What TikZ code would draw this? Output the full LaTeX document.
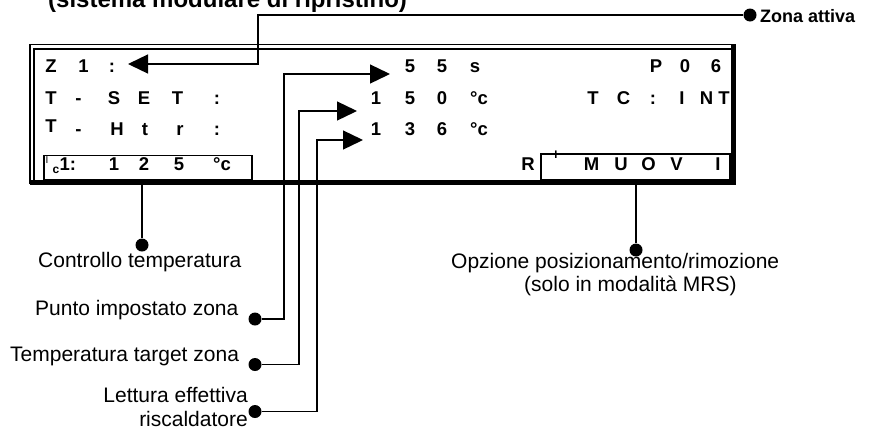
\documentclass[tikz,border=0pt]{standalone}
\usepackage{fontspec}
\setmainfont{Liberation Sans}
\usepackage{tikz}
\usetikzlibrary{arrows.meta}
\newcommand{\lcdfont}{\fontsize{18.5}{21}\selectfont\bfseries}
\newcommand{\lblfont}{\fontsize{21}{24}\selectfont}
\newcommand{\ttlfont}{\fontsize{24}{28}\selectfont\bfseries}
\tikzstyle{lcd}=[font=\lcdfont,inner sep=0pt,anchor=base]
\tikzstyle{lbl}=[font=\lblfont,inner sep=0pt]
\tikzstyle{dot}=[circle,fill=black,inner sep=0pt,minimum size=13pt]
\tikzstyle{conn}=[line width=1.3pt]
\tikzstyle{pointer}=[conn,-{Triangle[length=20pt,width=19pt]}]
\tikzstyle{field}=[draw,line width=1.2pt,inner sep=0pt]

\begin{document}
\begin{tikzpicture}[x=1pt,y=-1pt]
          \useasboundingbox (0,0) rectangle (883,432);
          \node[font=\ttlfont,inner sep=0pt,anchor=base west] (title) at (48,7) {(sistema modulare di ripristino)};
          \draw[line width=1.3pt] (30,184) -- (30,44.5) -- (736,44.5);
          \draw[line width=1.2pt] (34,180) -- (34,49) -- (731,49);
          \draw[line width=5pt] (733.5,44) -- (733.5,182) -- (30,182);
          \node[field,minimum width=208pt,minimum height=24.5pt] (tcbox) at (148,167.75) {};
          \node[field,minimum width=189pt,minimum height=26pt] (mvbox) at (635.5,167) {};
          \foreach \x/\c [count=\i] in {51/Z,83.5/1,112/:,410/5,442/5,475/s,656/P,685/0,716/6}
            \node[lcd] (ra\i) at (\x,72.5) {\c};
          \foreach \x/\c [count=\i] in {51/T,78.5/-,114/S,144/E,177.5/T,217/:,376/1,410/5,442/0,479/°c,593/T,623.5/C,653/:,682/I,706.5/N,724/T}
            \node[lcd] (rb\i) at (\x,104) {\c};
          \foreach \x/\c [count=\i] in {78.5/-,117/H,145/t,180/r,217/:,376/1,410/3,442/6,479/°c}
            \node[lcd] (rc\i) at (\x,135.5) {\c};
          \node[lcd] (rc0) at (51,132.5) {T};
          \foreach \x/\c [count=\i] in {114/1,144/2,179/5,222/°c,528/R,591.5/M,621/U,648.5/O,676.5/V,718/I}
            \node[lcd] (rd\i) at (\x,170) {\c};
          \node[font=\fontsize{10}{12}\selectfont,inner sep=0pt,anchor=base] (tci) at (47,163) {I};
          \node[font=\fontsize{12}{14}\selectfont\bfseries,inner sep=0pt,anchor=base] (tcc) at (56,173.5) {c};
          \node[lcd,anchor=base west] (tcn) at (59.5,170) {1:};
          \node[font=\fontsize{11}{13}\selectfont\bfseries,inner sep=0pt,anchor=base] (mvi) at (556,158) {I};
          \node[dot] (zdot) at (750,15) {};
          \node[font=\fontsize{18}{20}\selectfont\bfseries,inner sep=0pt,anchor=base west] (zona) at (760,22.5) {Zona attiva};
          \node[dot] (cdot) at (142,245) {};
          \node[lbl,anchor=base west] (ctrl) at (38,267) {Controllo temperatura};
          \node[dot] (pdot) at (255,319) {};
          \node[lbl,anchor=base west] (punto) at (35,315) {Punto impostato zona};
          \node[dot] (tdot) at (255,364.5) {};
          \node[lbl,anchor=base west] (target) at (10,361.5) {Temperatura target zona};
          \node[dot] (ldot) at (255,411.5) {};
          \node[lbl,anchor=base east] (lett) at (248,402.5) {Lettura effettiva};
          \node[lbl,anchor=base east] (risc) at (248,426) {riscaldatore};
          \node[dot] (odot) at (636,250) {};
          \node[lbl,anchor=base west] (opz) at (451,268) {Opzione posizionamento/rimozione};
          \node[lbl,anchor=base west] (mrs) at (524,291.5) {(solo in modalità MRS)};
          \coordinate (bz) at (258,64);
          \coordinate (tz) at (128,64);
          \coordinate (bp) at (284,74);
          \coordinate (tp) at (390,74);
          \coordinate (bt) at (299,111);
          \coordinate (tt) at (357,111);
          \coordinate (bl) at (317,140);
          \coordinate (tl) at (363,140);
          \draw[pointer] (zdot.west) -| (bz) -- (tz);
          \draw[pointer] (pdot.east) -| (bp) -- (tp);
          \draw[pointer] (tdot.east) -| (bt) -- (tt);
          \draw[pointer] (ldot.east) -| (bl) -- (tl);
          \draw[conn] (tcbox.south -| cdot) -- (cdot);
          \draw[conn] (mvbox.south -| odot) -- (odot);
        \end{tikzpicture}
\end{document}
